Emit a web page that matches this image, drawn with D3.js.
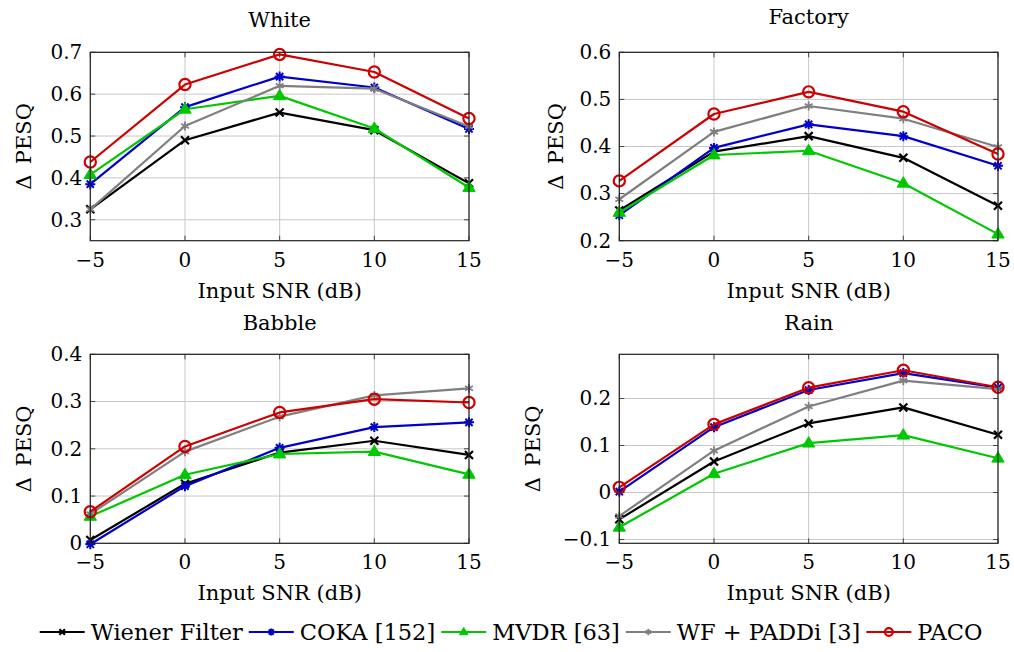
<!DOCTYPE html>
<html>
<head>
<meta charset="utf-8">
<script src="https://cdn.jsdelivr.net/npm/d3@7"></script>
<style>
  body { margin: 0; background: #fff; }
</style>
</head>
<body>
<svg id="chart" width="1014" height="652" font-family="'DejaVu Serif', serif"></svg>
<script>
// x values shared by all panels
const snr = [-5, 0, 5, 10, 15];
const methods = ['Wiener Filter', 'COKA [152]', 'MVDR [63]', 'WF + PADDi [3]', 'PACO'];
const colors = ['#000000', '#0000cc', '#00c800', '#7f7f7f', '#cc0000'];
const markers = ['cross', 'asterisk', 'triangle', 'star', 'circle'];

// ΔPESQ per method, in the order of `methods`
const whiteVals = [
  [0.325, 0.490, 0.556, 0.514, 0.387],
  [0.385, 0.569, 0.642, 0.616, 0.517],
  [0.408, 0.564, 0.596, 0.518, 0.377],
  [0.325, 0.524, 0.620, 0.613, 0.523],
  [0.438, 0.623, 0.695, 0.653, 0.542]
];
const factoryVals = [
  [0.264, 0.389, 0.422, 0.376, 0.274],
  [0.254, 0.397, 0.447, 0.422, 0.359],
  [0.260, 0.382, 0.391, 0.322, 0.214],
  [0.288, 0.431, 0.486, 0.459, 0.399],
  [0.327, 0.469, 0.516, 0.474, 0.384]
];
const babbleVals = [
  [0.007, 0.126, 0.192, 0.217, 0.187],
  [-0.002, 0.121, 0.202, 0.246, 0.256],
  [0.057, 0.145, 0.189, 0.194, 0.146],
  [0.062, 0.194, 0.268, 0.313, 0.328],
  [0.067, 0.205, 0.277, 0.305, 0.298]
];
const rainVals = [
  [-0.057, 0.066, 0.147, 0.181, 0.123],
  [0.002, 0.139, 0.218, 0.254, 0.223],
  [-0.074, 0.040, 0.105, 0.122, 0.073],
  [-0.050, 0.089, 0.183, 0.238, 0.220],
  [0.011, 0.145, 0.223, 0.260, 0.224]
];

// y ticks per panel
const whiteTicks = [0.3, 0.4, 0.5, 0.6, 0.7];
const factoryTicks = [0.2, 0.3, 0.4, 0.5, 0.6];
const babbleTicks = [0, 0.1, 0.2, 0.3, 0.4];
const rainTicks = [-0.1, 0, 0.1, 0.2];

const panels = [
  {title: 'White',   vals: whiteVals,   ticks: whiteTicks,   dom: [0.25, 0.7],     x0: 90.3,  x1: 469, y0: 52.3,  y1: 240.7, titleY: 27,  labX: 23},
  {title: 'Factory', vals: factoryVals, ticks: factoryTicks, dom: [0.2, 0.6],      x0: 619.3, x1: 998, y0: 52.3,  y1: 240.7, titleY: 24,  labX: 555},
  {title: 'Babble',  vals: babbleVals,  ticks: babbleTicks,  dom: [0, 0.4],        x0: 90.3,  x1: 469, y0: 354.3, y1: 543.3, titleY: 330, labX: 23},
  {title: 'Rain',    vals: rainVals,    ticks: rainTicks,    dom: [-0.108, 0.294], x0: 619.3, x1: 998, y0: 354.3, y1: 543.3, titleY: 330, labX: 532}
];

const svg = d3.select('#chart');
const fmt = d => d === 0 ? '0' : (d < 0 ? '\u2212' + Math.abs(d) : String(d));

function drawMarker(g, type, color, x, y, s) {
  s = s || 1;
  if (type === 'cross') {
    const r = 4 * s;
    g.append('path').attr('d', `M${x-r},${y-r}L${x+r},${y+r}M${x-r},${y+r}L${x+r},${y-r}`)
      .attr('stroke', color).attr('stroke-width', 2.2).attr('fill', 'none');
  } else if (type === 'asterisk') {
    const r = 5 * s, d = r * 0.72;
    g.append('path').attr('d', `M${x},${y-r}L${x},${y+r}M${x-r},${y}L${x+r},${y}M${x-d},${y-d}L${x+d},${y+d}M${x-d},${y+d}L${x+d},${y-d}`)
      .attr('stroke', color).attr('stroke-width', 2).attr('fill', 'none');
  } else if (type === 'star') {
    const r = 4.5 * s;
    let p = '';
    for (let k = 0; k < 3; k++) {
      const a = Math.PI / 2 + k * Math.PI / 3;
      p += `M${x + r*Math.cos(a)},${y - r*Math.sin(a)}L${x - r*Math.cos(a)},${y + r*Math.sin(a)}`;
    }
    g.append('path').attr('d', p).attr('stroke', color).attr('stroke-width', 1.8).attr('fill', 'none');
  } else if (type === 'triangle') {
    const r = 6.5 * s;
    g.append('path').attr('d', `M${x},${y-r}L${x+r*0.95},${y+r*0.6}L${x-r*0.95},${y+r*0.6}Z`)
      .attr('fill', color).attr('stroke', color).attr('stroke-width', 1);
  } else if (type === 'circle') {
    g.append('circle').attr('cx', x).attr('cy', y).attr('r', 5.6 * s)
      .attr('fill', 'none').attr('stroke', color).attr('stroke-width', 2.2);
  }
}

panels.forEach(p => {
  const x = d3.scaleLinear().domain([-5, 15]).range([p.x0, p.x1]);
  const y = d3.scaleLinear().domain(p.dom).range([p.y1, p.y0]);
  const g = svg.append('g');

  // grid
  g.selectAll('.gx').data(snr).enter().append('line')
    .attr('x1', d => x(d)).attr('x2', d => x(d)).attr('y1', p.y0).attr('y2', p.y1)
    .attr('stroke', '#c8c8c8').attr('stroke-width', 1);
  g.selectAll('.gy').data(p.ticks).enter().append('line')
    .attr('x1', p.x0).attr('x2', p.x1).attr('y1', d => y(d)).attr('y2', d => y(d))
    .attr('stroke', '#c8c8c8').attr('stroke-width', 1);

  // inner tick marks
  const tk = 5;
  snr.forEach(d => {
    g.append('path').attr('d', `M${x(d)},${p.y1}V${p.y1-tk}M${x(d)},${p.y0}V${p.y0+tk}`)
      .attr('stroke', '#444').attr('stroke-width', 1);
  });
  p.ticks.forEach(d => {
    g.append('path').attr('d', `M${p.x0},${y(d)}H${p.x0+tk}M${p.x1},${y(d)}H${p.x1-tk}`)
      .attr('stroke', '#444').attr('stroke-width', 1);
  });

  // lines + markers
  const line = d3.line().x((d, i) => x(snr[i])).y(d => y(d));
  p.vals.forEach((vals, m) => {
    g.append('path').datum(vals).attr('d', line)
      .attr('fill', 'none').attr('stroke', colors[m]).attr('stroke-width', 2.2)
      .attr('stroke-linejoin', 'round');
    vals.forEach((v, i) => drawMarker(g, markers[m], colors[m], x(snr[i]), y(v)));
  });

  // frame
  g.append('rect').attr('x', p.x0).attr('y', p.y0)
    .attr('width', p.x1 - p.x0).attr('height', p.y1 - p.y0)
    .attr('fill', 'none').attr('stroke', '#222').attr('stroke-width', 1.2);

  // tick labels
  g.selectAll('.xl').data(snr).enter().append('text')
    .attr('x', d => x(d)).attr('y', p.y1 + 26).attr('text-anchor', 'middle')
    .attr('font-size', 20).text(d => d < 0 ? '\u2212' + Math.abs(d) : d);
  g.selectAll('.yl').data(p.ticks).enter().append('text')
    .attr('x', p.x0 - 8).attr('y', d => y(d)).attr('dy', '0.34em').attr('text-anchor', 'end')
    .attr('font-size', 20).text(fmt);

  // titles and axis labels
  g.append('text').attr('x', (p.x0 + p.x1) / 2).attr('y', p.titleY).attr('text-anchor', 'middle')
    .attr('font-size', 21).text(p.title);
  g.append('text').attr('x', (p.x0 + p.x1) / 2).attr('y', p.y1 + 57).attr('text-anchor', 'middle')
    .attr('font-size', 21).text('Input SNR (dB)');
  g.append('text').attr('transform', `translate(${p.labX + 8},${(p.y0 + p.y1) / 2}) rotate(-90)`)
    .attr('text-anchor', 'middle').attr('font-size', 21)
    .text('\u0394\u2002PESQ');
});

// legend, one row, centred
const leg = svg.append('g');
const legY = 632;
let cx = 0;
methods.forEach((name, m) => {
  const it = leg.append('g');
  it.append('line').attr('x1', 0).attr('x2', 45).attr('y1', 0).attr('y2', 0)
    .attr('stroke', colors[m]).attr('stroke-width', 2.2);
  drawMarker(it, markers[m], colors[m], 22.5, 0, 0.7);
  const t = it.append('text').attr('x', 51).attr('y', 8).attr('font-size', 22.5).text(name);
  const w = 51 + t.node().getComputedTextLength();
  it.attr('transform', `translate(${cx},${legY})`);
  cx += w + 6;
});
const total = cx - 6;
leg.attr('transform', `translate(${511 - total / 2},0)`);
</script>
</body>
</html>
